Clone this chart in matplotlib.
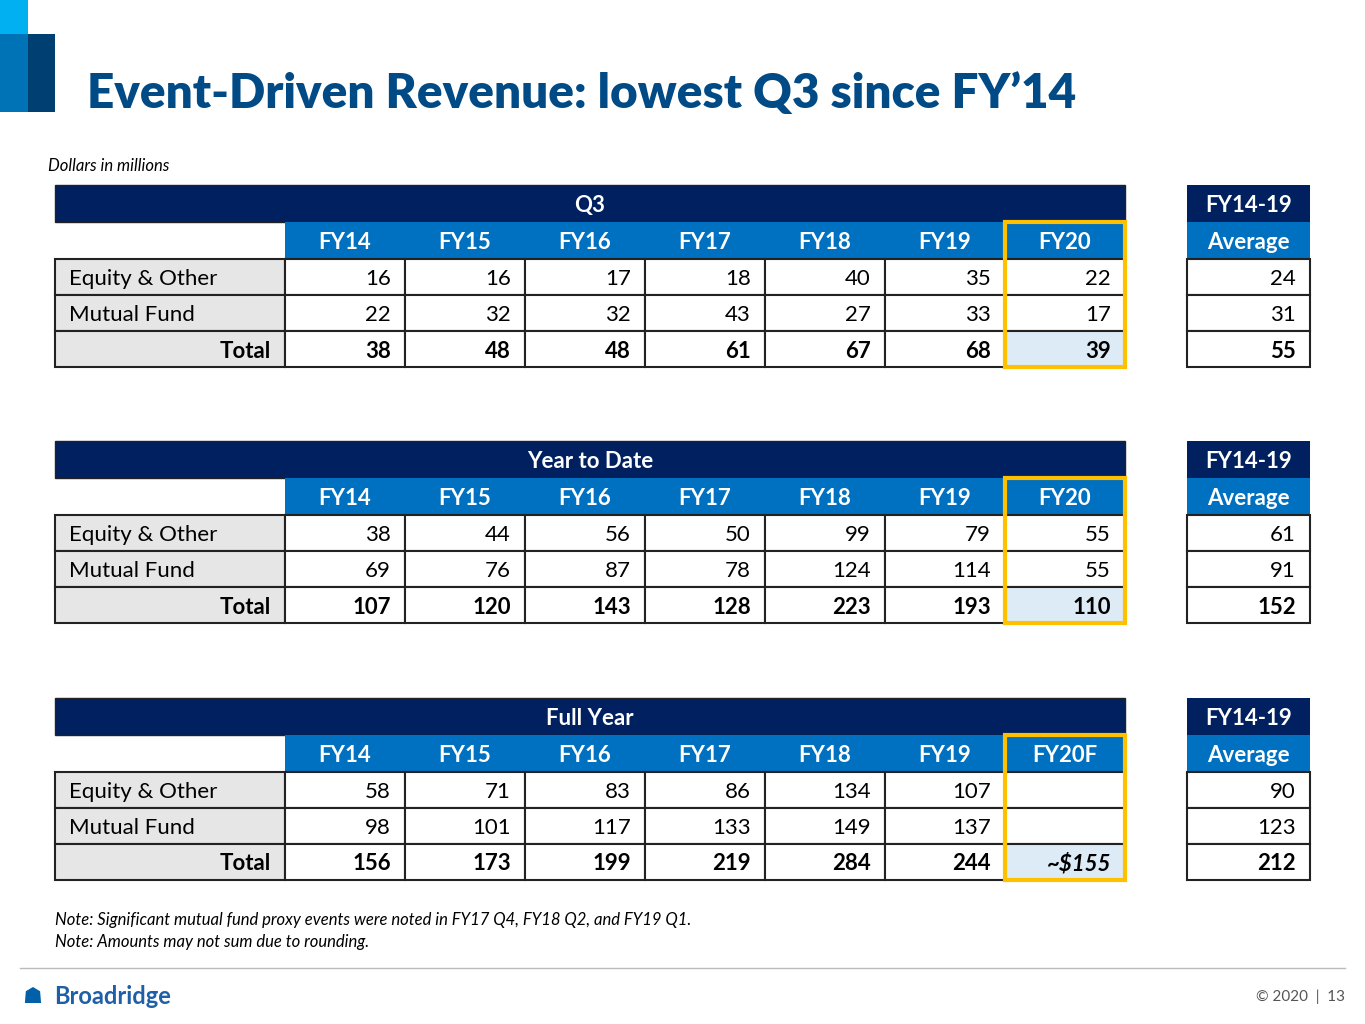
import matplotlib.pyplot as plt
from matplotlib.patches import Rectangle

plt.rcParams["font.family"] = ["Lato", "DejaVu Sans"]

row_labels = ["Equity & Other", "Mutual Fund", "Total"]
years = ["FY14", "FY15", "FY16", "FY17", "FY18", "FY19", "FY20"]
years_full = ["FY14", "FY15", "FY16", "FY17", "FY18", "FY19", "FY20F"]

q3_vals = [[16, 16, 17, 18, 40, 35, 22], [22, 32, 32, 43, 27, 33, 17], [38, 48, 48, 61, 67, 68, 39]]
q3_avg = [24, 31, 55]
ytd_vals = [[38, 44, 56, 50, 99, 79, 55], [69, 76, 87, 78, 124, 114, 55], [107, 120, 143, 128, 223, 193, 110]]
ytd_avg = [61, 91, 152]
fy_vals = [[58, 71, 83, 86, 134, 107, ""], [98, 101, 117, 133, 149, 137, ""], [156, 173, 199, 219, 284, 244, "~$155"]]
fy_avg = [90, 123, 212]

NAVY = "#002060"
BLUE = "#0070C0"
GREY = "#E7E6E6"
HILITE = "#DDEBF7"
GOLD = "#FFC000"
TITLE = "#004A86"

fig = plt.figure(figsize=(13.65, 10.24), dpi=100)
ax = fig.add_axes([0, 0, 1, 1])
ax.set_xlim(0, 1365)
ax.set_ylim(1024, 0)
ax.axis("off")

# logo bars top-left
ax.add_patch(Rectangle((0, 0), 28, 112, color="#00B0F0", lw=0))
ax.add_patch(Rectangle((0, 34), 28, 78, color="#0073B7", lw=0))
ax.add_patch(Rectangle((28, 34), 27, 78, color="#003F72", lw=0))
ax.text(87, 108, "Event-Driven Revenue: lowest Q3 since FY\u201914", fontsize=34.3, fontweight="heavy",
        color=TITLE, va="baseline")
ax.text(48, 166, "Dollars in millions", fontsize=12, style="italic", va="center")

x0, xl = 55, 285
cw = 120
ax0, ax1 = 1187, 1310
VA = "center_baseline"


def table(top, title, cols, vals, avg):
    h = 37
    rh = 36
    ax.add_patch(Rectangle((x0, top), 1125 - x0, h, fc=NAVY, ec="#222222", lw=1))
    ax.text((x0 + 1125) / 2, top + h / 2, title, color="white", fontsize=16, fontweight="bold",
            ha="center", va=VA)
    ax.add_patch(Rectangle((xl, top + h), 1125 - xl, h, fc=BLUE, lw=0))
    for j, c in enumerate(cols):
        ax.text(xl + cw * j + cw / 2, top + h * 1.5, c, color="white", fontsize=16,
                fontweight="bold", ha="center", va=VA)
    ax.add_patch(Rectangle((ax0, top), ax1 - ax0, h, fc=NAVY, lw=0))
    ax.add_patch(Rectangle((ax0, top + h), ax1 - ax0, h, fc=BLUE, lw=0))
    ax.text((ax0 + ax1) / 2, top + h / 2, "FY14-19", color="white", fontsize=16,
            fontweight="bold", ha="center", va=VA)
    ax.text((ax0 + ax1) / 2, top + h * 1.5, "Average", color="white", fontsize=16,
            fontweight="bold", ha="center", va=VA)
    y = top + 2 * h
    for i, lab in enumerate(row_labels):
        bold = i == 2
        fw = "bold" if bold else "normal"
        ax.add_patch(Rectangle((x0, y), xl - x0, rh, fc=GREY, ec="#222222", lw=1.5))
        if bold:
            ax.text(xl - 14, y + rh / 2, lab, fontsize=16, fontweight=fw, ha="right", va=VA)
        else:
            ax.text(x0 + 14, y + rh / 2, lab, fontsize=16, ha="left", va=VA)
        for j, v in enumerate(vals[i]):
            xs = xl + cw * j
            fc = HILITE if (bold and j == 6) else "white"
            ax.add_patch(Rectangle((xs, y), cw, rh, fc=fc, ec="#222222", lw=1.5))
            st = "italic" if isinstance(v, str) else "normal"
            ax.text(xs + cw - 14, y + rh / 2, str(v), fontsize=16, fontweight=fw, style=st,
                    ha="right", va=VA)
        ax.add_patch(Rectangle((ax0, y), ax1 - ax0, rh, fc="white", ec="#222222", lw=1.5))
        ax.text(ax1 - 14, y + rh / 2, str(avg[i]), fontsize=16, fontweight=fw, ha="right", va=VA)
        y += rh
    # gold highlight around last column
    ax.add_patch(Rectangle((xl + cw * 6, top + h), cw, y - top - h, fill=False, ec=GOLD, lw=3, zorder=5))


table(185, "Q3", years, q3_vals, q3_avg)
table(441, "Year to Date", years, ytd_vals, ytd_avg)
table(698, "Full Year", years_full, fy_vals, fy_avg)

ax.text(55, 918, "Note: Significant mutual fund proxy events were noted in FY17 Q4, FY18 Q2, and FY19 Q1.",
        fontsize=12, style="italic", va=VA)
ax.text(55, 941, "Note: Amounts may not sum due to rounding.", fontsize=12, style="italic", va=VA)
ax.plot([20, 1345], [968, 968], color="#BBBBBB", lw=1)
ax.text(22, 997, "\u2617", fontsize=16, color="#0060A8", va="center")
ax.text(54, 997, "Broadridge", fontsize=17, fontweight="bold", color="#1F5FA8", va="center")
ax.text(1345, 997, "\u00a9 2020  |  13", fontsize=11, color="#555555", ha="right", va="center")

fig.savefig("out.png", dpi=100)
